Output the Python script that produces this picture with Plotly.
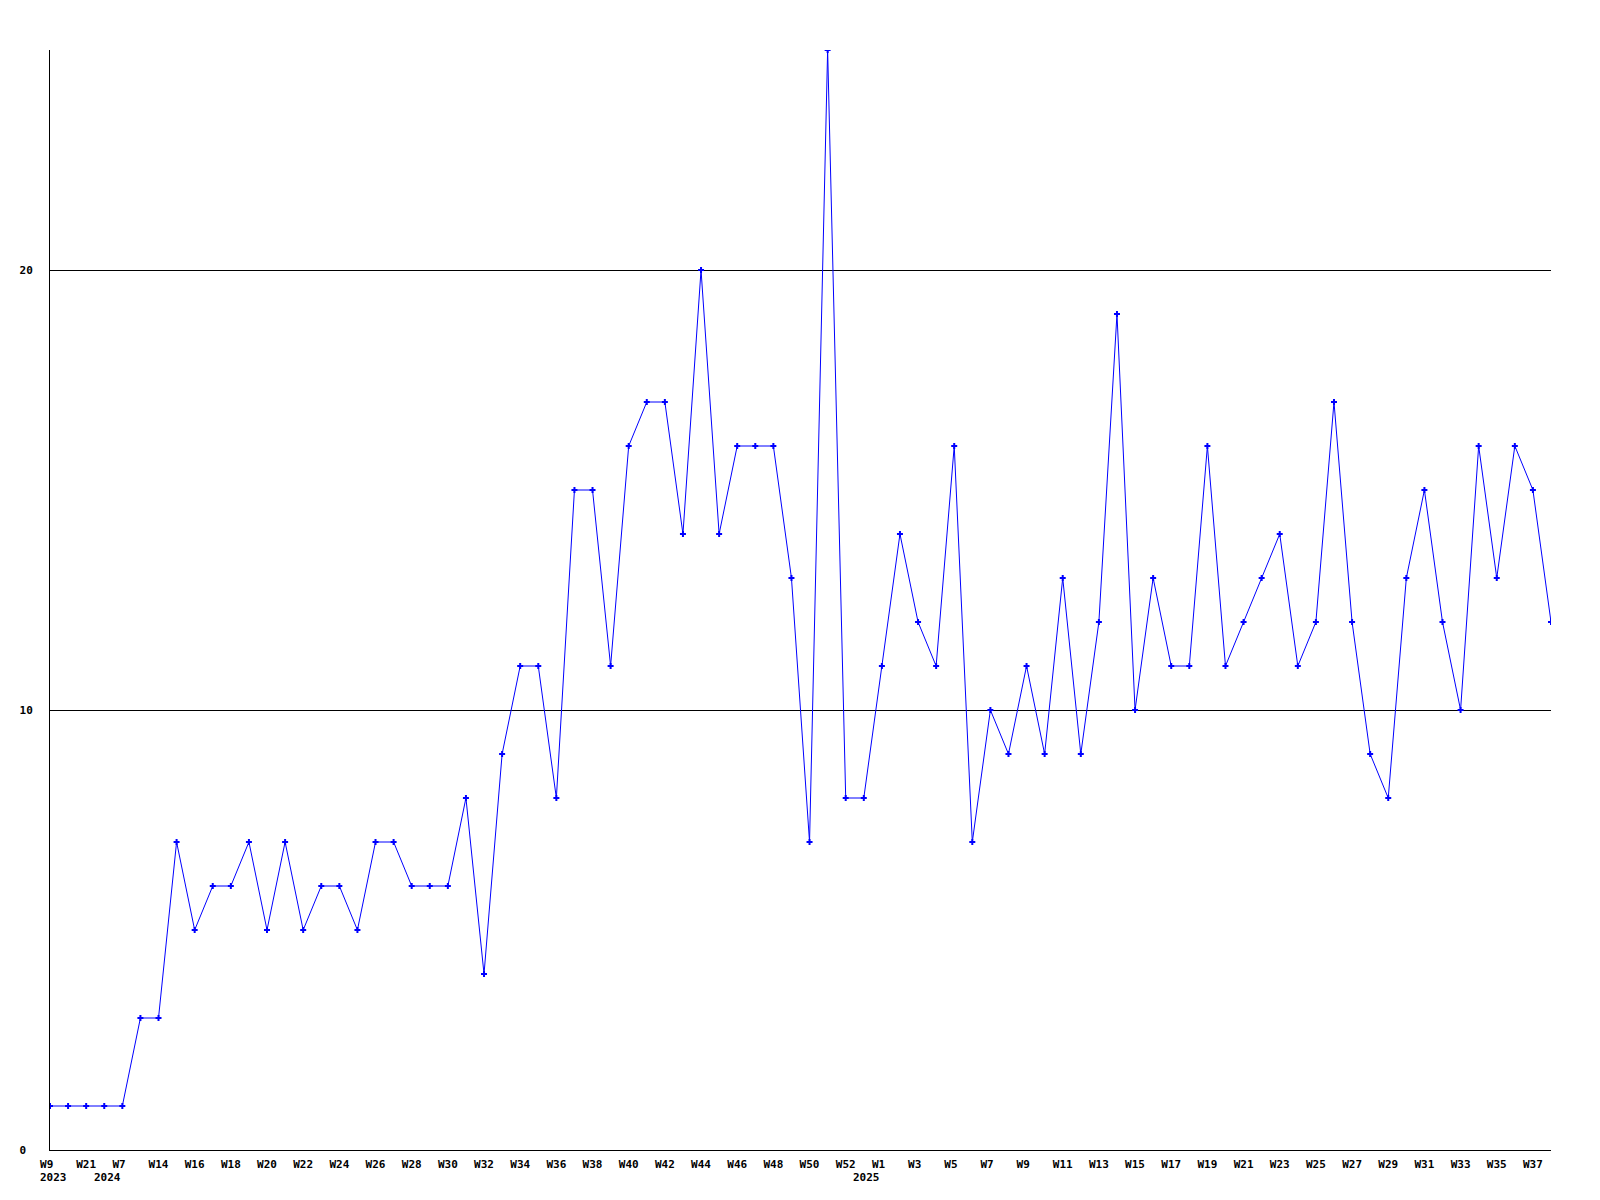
import plotly.graph_objects as go

# Categories (year-week); unlabeled ones are estimates
weeks = [
    "2023-W09", "2023-W15", "2023-W21", "2024-W03", "2024-W07", "2024-W10",
    "2024-W14", "2024-W15", "2024-W16", "2024-W17", "2024-W18", "2024-W19",
    "2024-W20", "2024-W21", "2024-W22", "2024-W23", "2024-W24", "2024-W25",
    "2024-W26", "2024-W27", "2024-W28", "2024-W29", "2024-W30", "2024-W31",
    "2024-W32", "2024-W33", "2024-W34", "2024-W35", "2024-W36", "2024-W37",
    "2024-W38", "2024-W39", "2024-W40", "2024-W41", "2024-W42", "2024-W43",
    "2024-W44", "2024-W45", "2024-W46", "2024-W47", "2024-W48", "2024-W49",
    "2024-W50", "2024-W51", "2024-W52", "2025-W00", "2025-W01", "2025-W02",
    "2025-W03", "2025-W04", "2025-W05", "2025-W06", "2025-W07", "2025-W08",
    "2025-W09", "2025-W10", "2025-W11", "2025-W12", "2025-W13", "2025-W14",
    "2025-W15", "2025-W16", "2025-W17", "2025-W18", "2025-W19", "2025-W20",
    "2025-W21", "2025-W22", "2025-W23", "2025-W24", "2025-W25", "2025-W26",
    "2025-W27", "2025-W28", "2025-W29", "2025-W30", "2025-W31", "2025-W32",
    "2025-W33", "2025-W34", "2025-W35", "2025-W36", "2025-W37", "2025-W38",
]

values = [
    1, 1, 1, 1, 1, 3, 3, 7, 5, 6, 6, 7,
    5, 7, 5, 6, 6, 5, 7, 7, 6, 6, 6, 8,
    4, 9, 11, 11, 8, 15, 15, 11, 16, 17, 17, 14,
    20, 14, 16, 16, 16, 13, 7, 25, 8, 8, 11, 14,
    12, 11, 16, 7, 10, 9, 11, 9, 13, 9, 12, 19,
    10, 13, 11, 11, 16, 11, 12, 13, 14, 11, 12, 17,
    12, 9, 8, 13, 15, 12, 10, 16, 13, 16, 15, 12,
]

# x tick labels (every second category)
x_tick_vals = weeks[::2]
x_tick_text = [
    "W9", "W21", "W7", "W14", "W16", "W18", "W20", "W22", "W24", "W26",
    "W28", "W30", "W32", "W34", "W36", "W38", "W40", "W42", "W44", "W46",
    "W48", "W50", "W52", "W1", "W3", "W5", "W7", "W9", "W11", "W13",
    "W15", "W17", "W19", "W21", "W23", "W25", "W27", "W29", "W31", "W33",
    "W35", "W37",
]
# pad short labels so they sit like the reference
x_tick_text_padded = [t if len(t) >= 3 else t + "\u00a0" for t in x_tick_text]

# year labels at first week of each year
year_positions = ["2023-W09", "2024-W03", "2025-W00"]
year_labels = ["2023", "2024", "2025"]

y_tick_vals = [0, 10, 20]
y_tick_text = ["0\u00a0", "10", "20"]

FONT = "DejaVu Sans Mono"

fig = go.Figure()
fig.add_trace(go.Scatter(
    x=weeks, y=values, mode="lines+markers",
    line=dict(color="#0000ff", width=1),
    marker=dict(symbol="cross", size=5, color="#0000ff"),
    showlegend=False,
))

for pos, lab in zip(year_positions, year_labels):
    fig.add_annotation(
        x=pos, y=0, xref="x", yref="paper", text=lab, showarrow=False,
        xanchor="center", yanchor="middle", xshift=3, yshift=-27,
        font=dict(family=FONT, size=11, color="black", weight="bold"),
    )

fig.update_layout(
    width=1600, height=1200,
    margin=dict(l=50, r=49, t=50, b=50),
    paper_bgcolor="white", plot_bgcolor="white",
    font=dict(family=FONT, size=11, color="black"),
)
fig.update_xaxes(
    type="category", range=[0, len(weeks) - 1],
    tickmode="array", tickvals=x_tick_vals, ticktext=x_tick_text_padded,
    tickfont=dict(family=FONT, size=11, color="black", weight="bold"),
    showgrid=False, zeroline=False,
    showline=True, linecolor="black", linewidth=1,
    ticks="outside", ticklen=4, tickcolor="rgba(0,0,0,0)",
)
fig.update_yaxes(
    range=[0, 25],
    tickmode="array", tickvals=y_tick_vals, ticktext=y_tick_text,
    tickfont=dict(family=FONT, size=11, color="black", weight="bold"),
    showgrid=True, gridcolor="black", gridwidth=1, zeroline=False,
    showline=True, linecolor="black", linewidth=1,
    ticks="outside", ticklen=14, tickcolor="rgba(0,0,0,0)",
)

fig.write_html(
    "out.html",
    config={"displayModeBar": False},
    post_script="document.body.style.margin='0';document.body.style.overflow='hidden';",
)
